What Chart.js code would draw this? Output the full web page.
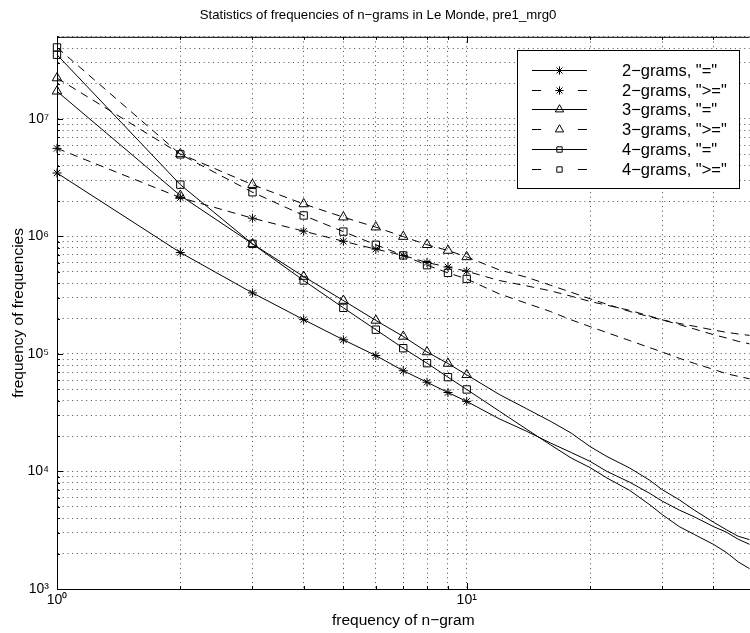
<!DOCTYPE html>
<html>
<head>
<meta charset="utf-8">
<script src="https://cdn.jsdelivr.net/npm/chart.js@4.4.0/dist/chart.umd.min.js"></script>
<style>
  html, body { margin: 0; padding: 0; background: #fff; overflow: hidden; }
  #wrap { width: 750px; height: 633px; overflow: hidden; }
</style>
</head>
<body>
<div id="wrap"><canvas id="ngramChart" width="756" height="633"></canvas></div>
<script>
// frequency of n-gram (points with markers, then tail without markers)
var markerX = [1, 2, 3, 4, 5, 6, 7, 8, 9, 10];
var tailX = [12, 14, 16, 18, 20, 22, 25, 28, 30, 33, 36, 40, 43, 46, 49];

// frequency of frequencies
var bi_eq = [3.47e6, 7.3e5, 3.31e5, 1.96e5, 1.32e5, 9.7e4, 7.2e4, 5.75e4, 4.7e4, 3.95e4];
var bi_eqTail = [2.81e4, 2.2e4, 1.75e4, 1.45e4, 1.22e4, 1.0e4, 8.1e3, 6.5e3, 5.6e3, 4.7e3, 4.1e3, 3.4e3, 3.05e3, 2.65e3, 2.4e3];
var bi_ge = [5.62e6, 2.14e6, 1.43e6, 1.11e6, 9.1e5, 7.8e5, 6.9e5, 6.0e5, 5.5e5, 5.06e5];
var bi_geTail = [4.22e5, 3.8e5, 3.45e5, 3.1e5, 2.8e5, 2.6e5, 2.35e5, 2.1e5, 1.95e5, 1.82e5, 1.72e5, 1.6e5, 1.53e5, 1.48e5, 1.44e5];
var tri_eq = [1.72e7, 2.23e6, 8.65e5, 4.56e5, 2.85e5, 1.93e5, 1.41e5, 1.04e5, 8.3e4, 6.65e4];
var tri_eqTail = [4.53e4, 3.42e4, 2.68e4, 2.12e4, 1.63e4, 1.34e4, 1.07e4, 8.4e3, 7.0e3, 5.75e3, 4.67e3, 3.71e3, 3.2e3, 2.81e3, 2.63e3];
var tri_ge = [2.23e7, 5.04e6, 2.76e6, 1.89e6, 1.46e6, 1.20e6, 9.98e5, 8.5e5, 7.6e5, 6.7e5];
var tri_geTail = [5.2e5, 4.5e5, 3.85e5, 3.35e5, 2.95e5, 2.65e5, 2.3e5, 2.07e5, 1.95e5, 1.78e5, 1.63e5, 1.46e5, 1.37e5, 1.28e5, 1.22e5];
var quad_eq = [3.52e7, 2.76e6, 8.65e5, 4.22e5, 2.47e5, 1.61e5, 1.12e5, 8.35e4, 6.35e4, 4.99e4];
var quad_eqTail = [3.27e4, 2.29e4, 1.69e4, 1.3e4, 1.08e4, 8.8e3, 6.9e3, 5.2e3, 4.3e3, 3.4e3, 2.9e3, 2.4e3, 2.05e3, 1.7e3, 1.49e3];
var quad_ge = [4.06e7, 5.0e6, 2.38e6, 1.51e6, 1.10e6, 8.5e5, 6.9e5, 5.7e5, 4.9e5, 4.35e5];
var quad_geTail = [3.25e5, 2.7e5, 2.3e5, 1.95e5, 1.71e5, 1.52e5, 1.3e5, 1.13e5, 1.04e5, 9.2e4, 8.3e4, 7.4e4, 6.8e4, 6.45e4, 6.15e4];

var seriesNames = ['2\u2212grams, "="', '2\u2212grams, ">="', '3\u2212grams, "="',
                   '3\u2212grams, ">="', '4\u2212grams, "="', '4\u2212grams, ">="'];

// axis ticks / grid
var xTicks = [1, 2, 3, 4, 5, 6, 7, 8, 9, 10, 20, 30, 40];
var xTickLabels = { 1: '10\u2070', 10: '10\u00b9' };
var yTicks = [];
for (var e = 3; e <= 7; e++) {
    for (var m = 1; m <= 9; m++) {
        if (m * Math.pow(10, e) <= 5e7) yTicks.push(m * Math.pow(10, e));
    }
}
var yTickLabels = { 1000: '10\u00b3', 10000: '10\u2074', 100000: '10\u2075', 1000000: '10\u2076', 10000000: '10\u2077' };

var FONT = "'Liberation Sans', Arial, sans-serif";

function pts(head, tail) {
    return markerX.map(function (x, i) { return { x: x, y: head[i] }; })
        .concat(tailX.map(function (x, i) { return { x: x, y: tail[i] }; }));
}

function series(label, head, tail, style, radius, dashed) {
    return {
        label: label,
        data: pts(head, tail),
        borderColor: '#000',
        backgroundColor: 'rgba(0,0,0,0)',
        borderWidth: 1,
        borderDash: dashed ? [8, 6] : [],
        pointStyle: style,
        pointRadius: function (c) { return c.raw && c.raw.x <= 10 ? radius : 0; },
        pointBorderWidth: 1,
        pointBorderColor: '#000',
        pointBackgroundColor: 'rgba(0,0,0,0)',
        tension: 0,
        clip: false
    };
}

// matlab-like box: top border + inward ticks
var boxTicks = {
    id: 'boxTicks',
    afterDraw: function (chart) {
        var c = chart.ctx, a = chart.chartArea;
        var xs = chart.scales.x, ys = chart.scales.y;
        c.save();
        c.strokeStyle = '#000';
        c.lineWidth = 1;
        c.beginPath();
        c.moveTo(a.left, a.top + 0.5);
        c.lineTo(a.right, a.top + 0.5);
        yTicks.forEach(function (v) {
            var py = Math.round(ys.getPixelForValue(v)) + 0.5;
            var len = yTickLabels[v] ? 6 : 3;
            c.moveTo(a.left, py);
            c.lineTo(a.left + len, py);
        });
        xTicks.forEach(function (v) {
            var px = Math.round(xs.getPixelForValue(v)) + 0.5;
            var len = xTickLabels[v] ? 6 : 3;
            c.moveTo(px, a.bottom);
            c.lineTo(px, a.bottom - len);
            c.moveTo(px, a.top);
            c.lineTo(px, a.top + len);
        });
        c.stroke();
        c.restore();
    }
};

// legend drawn like matlab's
var matLegend = {
    id: 'matLegend',
    afterDraw: function (chart) {
        var c = chart.ctx;
        var bx = 517.5, by = 50.5, bw = 222, bh = 138;
        c.save();
        c.fillStyle = '#fff';
        c.fillRect(bx, by, bw, bh);
        c.strokeStyle = '#000';
        c.lineWidth = 1;
        c.strokeRect(bx, by, bw, bh);
        c.font = '16.5px ' + FONT;
        c.textBaseline = 'middle';
        chart.data.datasets.forEach(function (ds, i) {
            var y = Math.round(70 + i * 19.7) + 0.5;
            c.strokeStyle = '#000';
            c.beginPath();
            if (ds.borderDash.length) {
                c.moveTo(532, y); c.lineTo(541, y);
                c.moveTo(578, y); c.lineTo(587, y);
            } else {
                c.moveTo(532, y); c.lineTo(587, y);
            }
            c.stroke();
            c.fillStyle = 'rgba(0,0,0,0)';
            var r = ds.pointStyle === 'rect' ? 3.8 : (ds.pointStyle === 'triangle' ? 4.8 : 4.2);
            Chart.helpers.drawPoint(c, { pointStyle: ds.pointStyle, rotation: 0, radius: r, borderWidth: 1 }, 559.5, y);
            c.fillStyle = '#000';
            c.fillText(ds.label, 622, y + 1);
        });
        c.restore();
    }
};

var ctx = document.getElementById('ngramChart').getContext('2d');

window.ngramChart = new Chart(ctx, {
    type: 'line',
    data: {
        datasets: [
            series(seriesNames[0], bi_eq, bi_eqTail, 'star', 4.5, false),
            series(seriesNames[1], bi_ge, bi_geTail, 'star', 4.5, true),
            series(seriesNames[2], tri_eq, tri_eqTail, 'triangle', 5.5, false),
            series(seriesNames[3], tri_ge, tri_geTail, 'triangle', 5.5, true),
            series(seriesNames[4], quad_eq, quad_eqTail, 'rect', 5.2, false),
            series(seriesNames[5], quad_ge, quad_geTail, 'rect', 5.2, true)
        ]
    },
    options: {
        responsive: false,
        animation: false,
        layout: { padding: 0 },
        plugins: {
            legend: { display: false },
            tooltip: { enabled: false },
            title: {
                display: true,
                text: 'Statistics of frequencies of n\u2212grams in Le Monde, pre1_mrg0',
                color: '#000',
                font: { family: FONT, size: 13.2, weight: 'normal' },
                padding: { top: 7, bottom: 14 }
            }
        },
        scales: {
            x: {
                type: 'logarithmic',
                min: 1,
                max: 49,
                afterBuildTicks: function (s) { s.ticks = xTicks.map(function (v) { return { value: v }; }); },
                afterFit: function (s) { s.height = 44; },
                grid: { color: 'rgba(0,0,0,0.7)', drawTicks: false },
                border: { color: '#000', width: 1, dash: [1, 3.7] },
                ticks: {
                    autoSkip: false, maxRotation: 0, padding: 3, color: '#000',
                    font: { family: FONT, size: 14 },
                    callback: function (v) { return xTickLabels[v] || ''; }
                },
                title: {
                    display: true, text: 'frequency of n\u2212gram', color: '#000',
                    font: { family: FONT, size: 15.5 }, padding: { top: 0, bottom: 3 }
                }
            },
            y: {
                type: 'logarithmic',
                min: 1e3,
                max: 5e7,
                afterBuildTicks: function (s) { s.ticks = yTicks.map(function (v) { return { value: v }; }); },
                afterFit: function (s) { s.width = 57; },
                grid: { color: 'rgba(0,0,0,0.7)', drawTicks: false },
                border: { color: '#000', width: 1, dash: [1, 3.7] },
                ticks: {
                    autoSkip: false, padding: 8, color: '#000',
                    font: { family: FONT, size: 14 },
                    callback: function (v) { return yTickLabels[v] || ''; }
                },
                title: {
                    display: true, text: 'frequency of frequencies', color: '#000',
                    font: { family: FONT, size: 15.5 }, padding: { top: 9, bottom: 0 }
                }
            }
        }
    },
    plugins: [boxTicks, matLegend]
});
</script>
</body>
</html>
